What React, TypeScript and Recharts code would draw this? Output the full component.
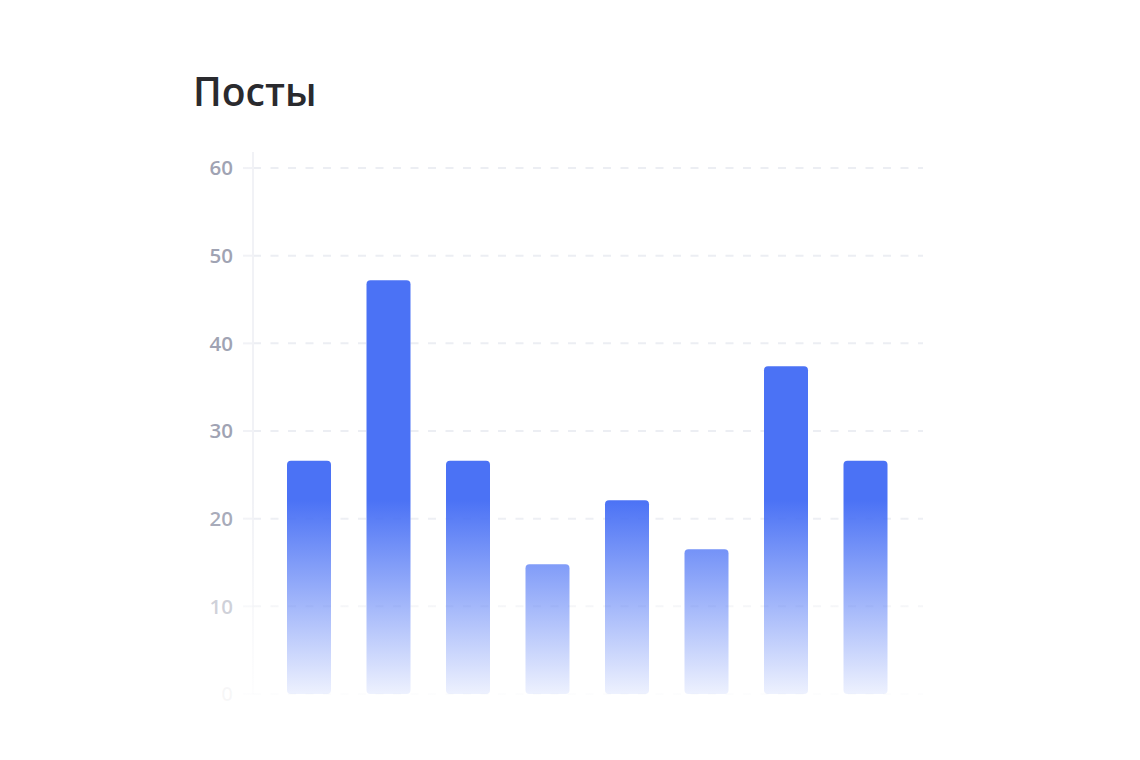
import React from "react";
import { BarChart, Bar, XAxis, YAxis, CartesianGrid } from "recharts";

const categories = ["1", "2", "3", "4", "5", "6", "7", "8"];
const posts = [26.6, 47.2, 26.6, 14.8, 22.1, 16.5, 37.4, 26.6];
const yTicks = [0, 10, 20, 30, 40, 50, 60];

const data = categories.map((name, i) => ({ name, posts: posts[i] }));

const W = 1124;
const H = 744;
const FADE_TOP = 492;
const FADE_BOTTOM = 690;

function fadeOpacity(y: number) {
  if (y <= FADE_TOP) return 1;
  const t = Math.min(1, (y - FADE_TOP) / (FADE_BOTTOM - FADE_TOP));
  return 1 - 0.93 * t;
}

function Tick(props: any) {
  const { x, y, payload } = props;
  return (
    <text
      x={x}
      y={y}
      dy="0.355em"
      textAnchor="end"
      fill="#a0a3b3"
      fillOpacity={fadeOpacity(y)}
      fontSize={20.5}
      fontWeight={600}
      fontFamily="'Open Sans', sans-serif"
    >
      {payload.value}
    </text>
  );
}

export default function App() {
  return (
    <div style={{ position: "relative", width: W, height: H, background: "#fff", fontFamily: "'Open Sans', sans-serif" }}>
      <div
        style={{
          position: "absolute",
          left: 185,
          top: 63,
          fontSize: 39,
          fontWeight: 600,
          color: "#2a2a2e",
          lineHeight: 1,
        }}
      >
        Посты
      </div>
      <BarChart
        width={W}
        height={H}
        data={data}
        margin={{ top: 144, right: 209, bottom: 58, left: 185 }}
        barSize={44}
      >
        <defs>
          <linearGradient id="barGrad" gradientUnits="userSpaceOnUse" x1="0" y1={FADE_TOP} x2="0" y2={FADE_BOTTOM}>
            <stop offset="0" stopColor="#4b72f5" stopOpacity={1} />
            <stop offset="1" stopColor="#4b72f5" stopOpacity={0.08} />
          </linearGradient>
          <linearGradient id="gridGrad" gradientUnits="userSpaceOnUse" x1="0" y1={FADE_TOP} x2="0" y2={FADE_BOTTOM}>
            <stop offset="0" stopColor="#eceef3" stopOpacity={1} />
            <stop offset="1" stopColor="#eceef3" stopOpacity={0.1} />
          </linearGradient>
          <linearGradient id="axisGrad" gradientUnits="userSpaceOnUse" x1="0" y1={FADE_TOP} x2="0" y2={FADE_BOTTOM}>
            <stop offset="0" stopColor="#f1f2f6" stopOpacity={1} />
            <stop offset="1" stopColor="#f1f2f6" stopOpacity={0.1} />
          </linearGradient>
        </defs>
        <CartesianGrid
          vertical={false}
          syncWithTicks
          stroke="url(#gridGrad)"
          strokeWidth={2}
          strokeDasharray="8 9.5"
        />
        <XAxis dataKey="name" hide padding={{ left: 16, right: 18 }} />
        <YAxis
          width={60}
          domain={[0, 61.83]}
          ticks={yTicks}
          allowDataOverflow
          axisLine={{ stroke: "url(#axisGrad)", strokeWidth: 2 }}
          tickLine={{ stroke: "url(#axisGrad)", strokeWidth: 2 }}
          tickSize={10}
          tickMargin={10}
          tick={<Tick />}
        />
        <Bar dataKey="posts" fill="url(#barGrad)" radius={4} isAnimationActive={false} />
      </BarChart>
    </div>
  );
}
